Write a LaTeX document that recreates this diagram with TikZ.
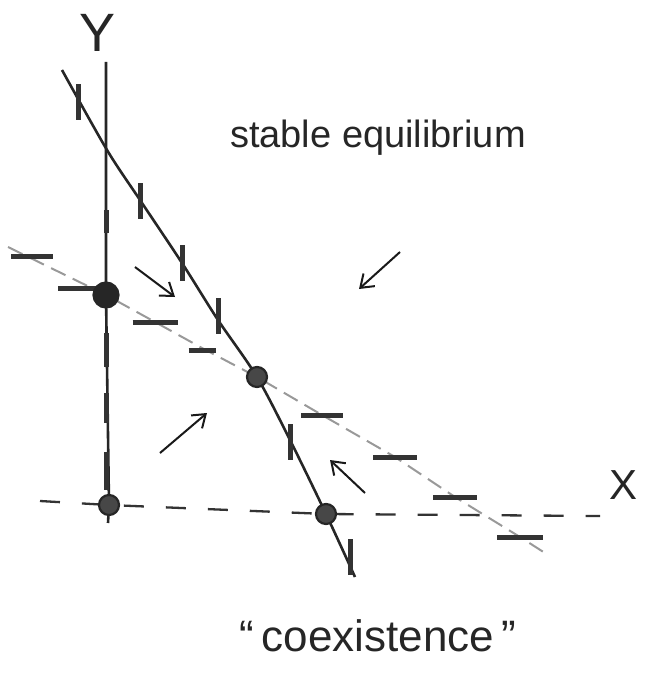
\documentclass[tikz,border=0pt]{standalone}
\usepackage{fontspec}
\setmainfont{Liberation Sans}
\usetikzlibrary{arrows.meta}
\begin{document}
\begin{tikzpicture}[x=1pt,y=-1pt,
  ax/.style={line width=2.6pt, black!85},
  tickbar/.style={line width=5pt, black!80},
  nullx/.style={line width=2pt, black!40, dash pattern=on 16pt off 8pt},
  xaxis/.style={line width=2.3pt, black!80, dash pattern=on 20pt off 22pt},
  flow/.style={line width=2pt, black!90, -{Straight Barb[length=12pt,width=17pt,line width=2pt]}},
  eq/.style={circle, draw=black!85, line width=2.2pt, fill=black!72, inner sep=0pt, minimum size=20pt},
  lbl/.style={inner sep=0pt, text=black!85}]
\useasboundingbox (0,0) rectangle (646,677);
% equilibrium positions
\coordinate (p1) at (106,295);
\coordinate (p0) at (109,505);
\coordinate (p2) at (257,377);
\coordinate (p3) at (326,514);
% Y axis
\draw[ax] (106,62) -- (p1) -- (p0) -- (108,523);
\foreach \a/\b in {210/233, 333/367, 393/423, 452/490}
  \draw[tickbar] (106.5,\a) -- (106.5,\b);
% X axis
\coordinate (xs) at (40,501);
\coordinate (xe) at (600,516);
\draw[xaxis] (xs) -- (p0) -- (p3) -- (xe);
% solid nullcline
\draw[ax] plot[smooth, tension=0.5] coordinates {(62,70) (107,150) (140,200) (182,263) (218,320) (p2) (290,440) (p3) (355,577)};
\foreach \x/\y in {78/102, 140/201, 182/263, 218/316, 290/442, 350/557}
  \draw[tickbar] (\x,\y-18) -- (\x,\y+18);
% dashed nullcline
\draw[nullx] (8,247) -- (p1) -- (155,322) -- (202,348) -- (p2) -- (322,415) -- (395,457) -- (455,497) -- (520,537) -- (545,553);
\foreach \x/\y/\l in {32/256/42, 78/288/40, 155/322/45, 202/350/27, 322/415/42, 395/457/44, 455/497/44, 520/537/46}
  \draw[tickbar] (\x-\l/2,\y) -- (\x+\l/2,\y);
% equilibria
\node[eq, minimum size=25pt, fill=black!85] (e1) at (p1) {};
\node[eq] (e0) at (p0) {};
\node[eq] (e2) at (p2) {};
\node[eq] (e3) at (p3) {};
% flow arrows
\draw[flow] (135,267) -- (175,297);
\draw[flow] (400,252) -- (359,289);
\draw[flow] (160,453) -- (207,413);
\draw[flow] (365,493) -- (330,460);
% labels
\node[lbl, font=\fontsize{54}{60}\selectfont] (ylab) at (98,33) {Y};
\node[lbl, font=\fontsize{42}{48}\selectfont] (xlab) at (623,485) {X};
\node[lbl, font=\fontsize{38}{44}\selectfont] (stab) at (378,138) {stable equilibrium};
\node[lbl, font=\fontsize{44}{50}\selectfont] (coex) at (378,636) {“\,coexistence\,”};
\end{tikzpicture}
\end{document}
